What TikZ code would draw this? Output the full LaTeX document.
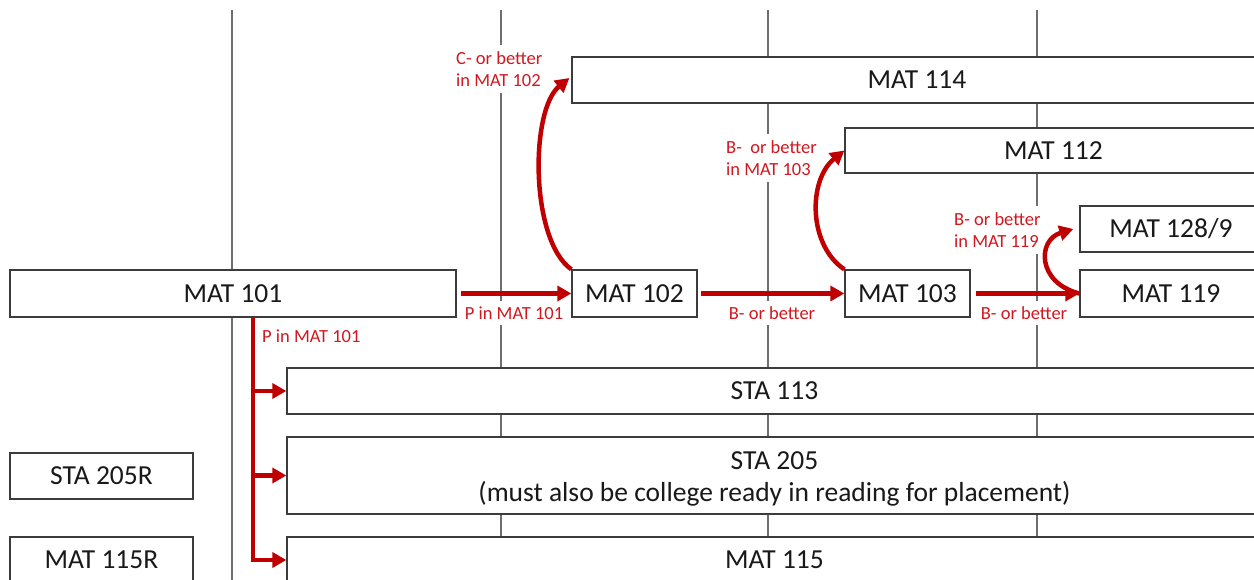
\documentclass[tikz,border=0pt]{standalone}
\usepackage{fontspec}
\setmainfont{Carlito}
\usetikzlibrary{arrows.meta,calc}
\definecolor{arrred}{RGB}{192,0,0}
\definecolor{lblred}{RGB}{208,24,32}
\definecolor{boxgray}{RGB}{60,60,60}
\definecolor{gridgray}{RGB}{110,110,110}
\definecolor{txt}{RGB}{25,25,25}
\newcommand{\lowr}[1]{\raisebox{-3pt}[\height][\depth]{#1}}
\begin{document}
\begin{tikzpicture}[x=1pt,y=-1pt,
  box/.style={draw=boxgray, line width=1.3pt, fill=white, inner sep=0pt, text=txt,
    font=\fontsize{27.5}{32}\selectfont, align=center},
  lbl/.style={fill=white, text=lblred, font=\fontsize{18.5}{22.5}\selectfont,
    inner xsep=2pt, inner ysep=6pt, align=left},
  gridline/.style={draw=gridgray, line width=1.2pt},
  req/.style={draw=arrred, line width=4.5pt, -{Triangle[length=14pt,width=15pt]}},
]
\useasboundingbox (0,0) rectangle (1254,580);
\clip (0,0) rectangle (1254,580);
\fill[white] (0,0) rectangle (1254,580);
% grid lines
\foreach \gx/\nm in {232/ga,501/gb,768/gc,1037/gd} {
  \coordinate (\nm t) at (\gx,10);
  \coordinate (\nm b) at (\gx,580);
  \draw[gridline] (\nm t) -- (\nm b);
}
% boxes
\node[box, minimum width=690pt, minimum height=46pt] (m114) at (917,80) {MAT 114};
\node[box, minimum width=417pt, minimum height=45pt] (m112) at (1053.5,150.5) {MAT 112};
\node[box, minimum width=182pt, minimum height=46pt] (m1289) at (1171,229) {MAT 128/9};
\node[box, minimum width=446pt, minimum height=47pt] (m101) at (233,293.5) {MAT 101};
\node[box, minimum width=125pt, minimum height=47pt] (m102) at (634.5,293.5) {MAT 102};
\node[box, minimum width=125pt, minimum height=47pt] (m103) at (907.5,293.5) {MAT 103};
\node[box, minimum width=182pt, minimum height=47pt] (m119) at (1171,293.5) {MAT 119};
\node[box, minimum width=975pt, minimum height=46pt] (s113) at (774.5,391) {STA 113};
\node[box, minimum width=975pt, minimum height=77pt] (s205) at (774.5,475.5) {\lowr{STA 205}\\\lowr{(must also be college ready in reading for placement)}};
\node[box, minimum width=183pt, minimum height=46pt] (s205r) at (101.5,476) {STA 205R};
\node[box, minimum width=183pt, minimum height=46pt] (m115r) at (101.5,560) {MAT 115R};
\node[box, minimum width=975pt, minimum height=46pt] (m115) at (774.5,560) {MAT 115};
% labels
\node[lbl] (l1) at (514,313) {P in MAT 101};
\node[lbl] (l2) at (772,313) {B- or better};
\node[lbl] (l3) at (1024,313) {B- or better};
\node[lbl, anchor=west] (l4) at (454,69) {C- or better\\in MAT 102};
\node[lbl, anchor=west] (l5) at (724,158) {B-\ \ or better\\in MAT 103};
\node[lbl, anchor=west] (l6) at (952,230) {B- or better\\in MAT 119};
\node[lbl, anchor=west] (l7) at (260,336) {P in MAT 101};
% arrows
\draw[req, shorten <=4pt] (m101.east) -- (m102.west);
\draw[req, shorten <=3pt] (m102.east) -- (m103.west);
\draw[req, shorten <=5pt] (m103.east) -- (m119.west);
\draw[req] (m102.north west) .. controls (530,240) and (530,110) .. ($(m114.west)+(-2,-2)$);
\draw[req] (m103.north west) .. controls (808,245) and (808,180) .. (m112.west);
\draw[req] (m119.west) .. controls (1037,283) and (1037,240) .. ($(m1289.west)+(-6,0)$);
\coordinate (br) at (253,318);
\draw[req] (br) |- (m115.west);
\draw[req] (br |- s113.west) -- (s113.west);
\draw[req] (br |- s205.west) -- (s205.west);
\end{tikzpicture}
\end{document}
